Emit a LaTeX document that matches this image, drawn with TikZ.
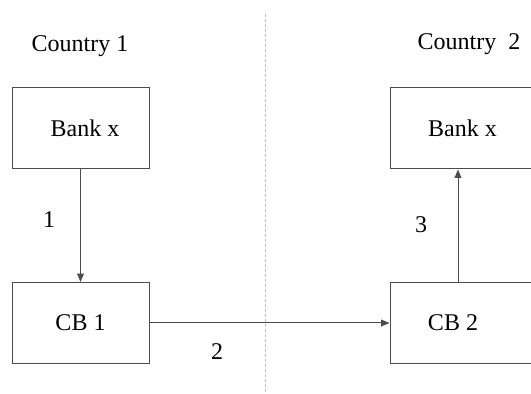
\documentclass[tikz,border=0pt]{standalone}
\usepackage{fontspec}
\setmainfont{Liberation Serif}
\usetikzlibrary{arrows.meta, positioning}
\tikzset{
	every node/.style={
		align=center,
		font=\fontsize{12}{14}\selectfont,
	},
	bankbox/.style={draw=black!70, line width=0.5pt, minimum height=40.5pt, inner sep=0pt},
	flow/.style={draw=black!70, line width=0.5pt, -{Triangle[length=4.2pt,width=3.4pt]}},
}
\begin{document}
\begin{tikzpicture}[x=0.5pt, y=-0.5pt]
        \useasboundingbox (0,0) rectangle (531,394);
        \clip (0,0) rectangle (531,394);
        \draw[gray!50, line width=0.4pt, dash pattern=on 1.5pt off 1pt] (265.5,14) -- (265.5,394);
        \node[anchor=base] (c1) at (80,52) {Country 1};
        \node[anchor=base] (c2) at (469,50) {Country\ \ 2};
        \node[bankbox, minimum width=68.5pt] (bank1) at (80.5,128.5) {\hspace*{4.5pt}Bank x};
        \node[bankbox, minimum width=68.5pt] (cb1) at (80.5,323) {CB 1};
        \node[bankbox, minimum width=75pt] (bank2) at (465,128.5) {Bank x\hspace*{2.5pt}};
        \node[bankbox, minimum width=75pt] (cb2) at (465,323) {CB 2\hspace*{12pt}};
        \draw[flow] (bank1.south) -- (cb1.north);
        \draw[flow] (cb1.east) -- (cb2.west);
        \draw[flow] ([xshift=-3.5pt]cb2.north) -- ([xshift=-3.5pt]bank2.south);
        \node[anchor=base] (n1) at (49,228) {1};
        \node[anchor=base] (n2) at (217,360) {2};
        \node[anchor=base] (n3) at (421,233) {3};
\end{tikzpicture}
\end{document}
